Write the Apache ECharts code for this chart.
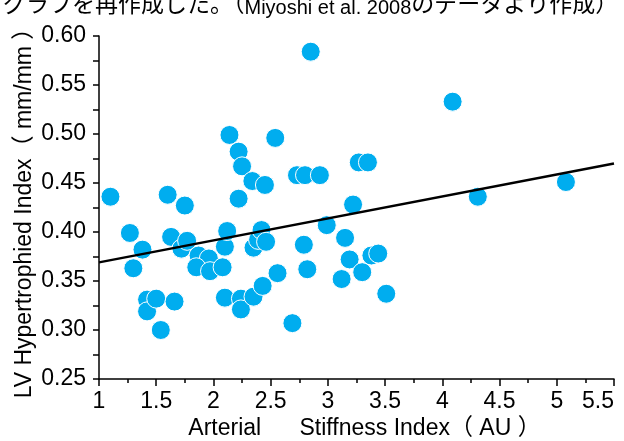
<!DOCTYPE html>
<html lang="ja">
<head>
    <meta charset="UTF-8">
    <title>LV Hypertrophied Index vs Arterial Stiffness Index</title>
    <script src="https://cdn.jsdelivr.net/npm/echarts@6/dist/echarts.min.js"></script>
    <style>
        html, body { margin: 0; padding: 0; background: #fff; }
        #chart1 { width: 624px; height: 441px; }
    </style>
</head>
<body>
<div id="chart1"></div>
<script type="text/javascript">
    // 散布図の値
    var stiffness = [1.10, 1.27, 1.30, 1.38, 1.42, 1.42, 1.50, 1.54, 1.60, 1.63,
        1.66, 1.72, 1.75, 1.77, 1.87, 1.96, 1.85, 1.97, 2.08, 2.10,
        2.12, 2.10, 2.14, 2.22, 2.22, 2.24, 2.24, 2.25, 2.34, 2.35,
        2.35, 2.39, 2.42, 2.43, 2.45, 2.46, 2.54, 2.56, 2.69, 2.73,
        2.79, 2.80, 2.82, 2.85, 2.93, 2.99, 3.12, 3.15, 3.19, 3.22,
        3.27, 3.30, 3.35, 3.38, 3.44, 3.51, 4.09, 4.31, 5.08];
    var lvIndex = [0.436, 0.399, 0.363, 0.382, 0.331, 0.319, 0.332, 0.300, 0.438, 0.395,
        0.329, 0.383, 0.427, 0.391, 0.376, 0.373, 0.364, 0.360, 0.364, 0.385,
        0.401, 0.333, 0.499, 0.482, 0.434, 0.332, 0.321, 0.467, 0.452, 0.384,
        0.334, 0.392, 0.402, 0.345, 0.448, 0.390, 0.496, 0.358, 0.307, 0.458,
        0.387, 0.458, 0.362, 0.584, 0.458, 0.407, 0.352, 0.394, 0.372, 0.428,
        0.471, 0.359, 0.471, 0.376, 0.378, 0.337, 0.533, 0.436, 0.451];
    // 回帰直線
    var trendX = [1, 5.5];
    var trendY = [0.369, 0.470];

    var xTicks = [1, 1.5, 2, 2.5, 3, 3.5, 4, 4.5, 5, 5.5];
    var yTicks = [0.25, 0.30, 0.35, 0.40, 0.45, 0.50, 0.55, 0.60];

    var points = stiffness.map(function (x, i) { return [x, lvIndex[i]]; });
    var trend = trendX.map(function (x, i) { return [x, trendY[i]]; });

    var font = '"Liberation Sans", Arial, "Noto Sans CJK JP", sans-serif';

    var myChart1 = echarts.init(document.getElementById('chart1'));
    myChart1.setOption({
        animation: false,
        textStyle: { fontFamily: font },
        title: {
            text: '{a|グラフを再作成した。（}{b|Miyoshi et al. 2008}{a|のデータより作成）}',
            left: -2,
            top: -11,
            textStyle: {
                fontSize: 23,
                lineHeight: 24,
                fontWeight: 'normal',
                color: '#000',
                rich: {
                    a: { fontSize: 23, lineHeight: 24, color: '#000', fontFamily: font },
                    b: { fontSize: 20, lineHeight: 24, color: '#000', fontFamily: font, verticalAlign: 'bottom' }
                }
            }
        },
        grid: { left: 99, right: 10, top: 36, bottom: 62, outerBoundsMode: 'none' },
        xAxis: {
            type: 'value',
            min: xTicks[0],
            max: xTicks[xTicks.length - 1],
            interval: 0.5,
            name: 'Arterial      Stiffness Index（ AU ）',
            nameLocation: 'middle',
            nameGap: 38,
            nameMoveOverlap: false,
            nameTextStyle: { fontSize: 23, color: '#000', padding: [0, 0, 0, 16] },
            splitLine: { show: false },
            axisLine: { lineStyle: { color: '#000', width: 1.5 } },
            axisTick: { length: 7, lineStyle: { color: '#000', width: 1.5 } },
            minorTick: { show: true, splitNumber: 2, length: 4, lineStyle: { color: '#000', width: 1.5 } },
            axisLabel: { fontSize: 23, color: '#000', margin: 11, alignMaxLabel: 'right' }
        },
        yAxis: {
            type: 'value',
            min: yTicks[0],
            max: yTicks[yTicks.length - 1],
            interval: 0.05,
            name: 'LV Hypertrophied Index（ mm/mm ）',
            nameLocation: 'middle',
            nameGap: 63,
            nameMoveOverlap: false,
            nameTextStyle: { fontSize: 23, color: '#000' },
            splitLine: { show: false },
            axisLine: { lineStyle: { color: '#000', width: 1.5 } },
            axisTick: { length: 6, lineStyle: { color: '#000', width: 1.5 } },
            minorTick: { show: true, splitNumber: 2, length: 6, lineStyle: { color: '#000', width: 1.5 } },
            axisLabel: {
                fontSize: 23, color: '#000', margin: 13,
                formatter: function (v) { return v.toFixed(2); }
            }
        },
        series: [{
            type: 'scatter',
            data: points,
            symbolSize: 19,
            itemStyle: { color: '#00adef', borderColor: '#fff', borderWidth: 1, opacity: 1 },
            z: 2
        }, {
            type: 'line',
            data: trend,
            showSymbol: false,
            symbol: 'none',
            lineStyle: { color: '#000', width: 2.5 },
            z: 3
        }]
    });
</script>
</body>
</html>
